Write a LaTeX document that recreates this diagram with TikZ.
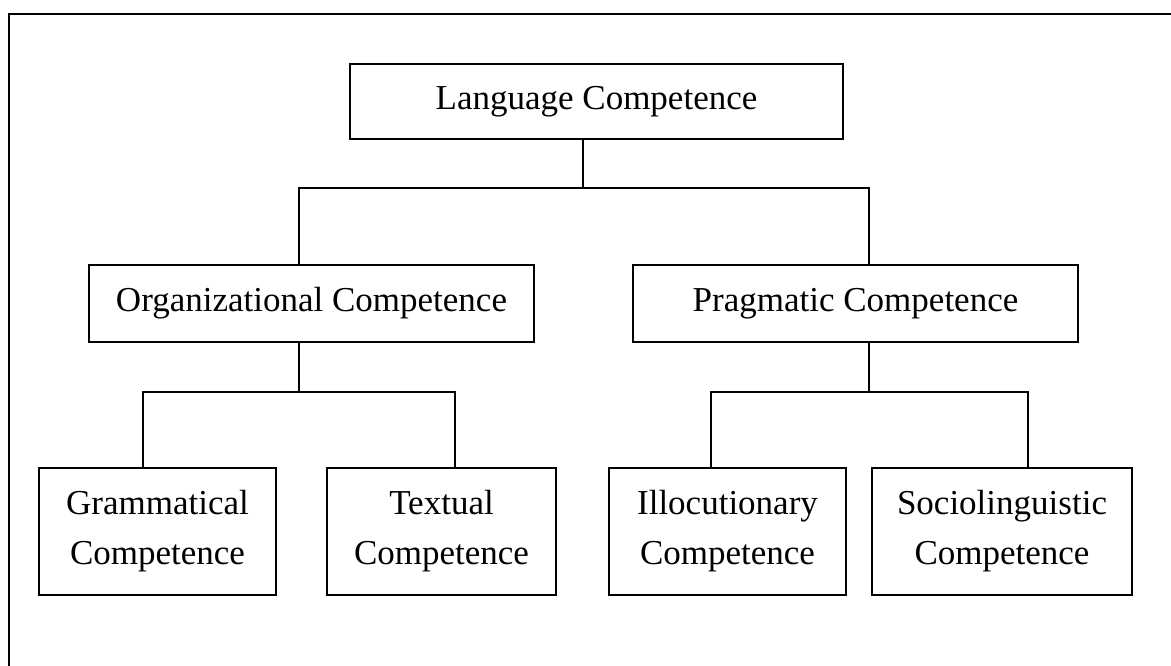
\documentclass[tikz,border=0pt]{standalone}
\usepackage{fontspec}
\setmainfont{Liberation Serif}
\begin{document}
\begin{tikzpicture}[x=1pt,y=-1pt,
  box/.style={draw, line width=2.7pt, rectangle, inner sep=0pt, align=center,
    font=\fontsize{35}{50}\selectfont},
  link/.style={line width=2.5pt}]
  \useasboundingbox (0,0) rectangle (1171,666);
  \fill[white] (0,0) rectangle (1171,666);
  \clip (0,0) rectangle (1171,666);
  % outer frame (runs past the right and bottom edges)
  \draw[line width=2.8pt] (9,700) -- (9,14) -- (1200,14);

  % boxes
  \node[box, minimum width=493pt, minimum height=75pt] (lang) at (596.5,101.5) {Language Competence};
  \node[box, minimum width=445pt, minimum height=77pt] (org)  at (311.5,303.5) {Organizational Competence};
  \node[box, minimum width=445pt, minimum height=77pt] (prag) at (855.5,303.5) {Pragmatic Competence};
  \node[box, minimum width=237pt, minimum height=127pt] (gram) at (157.5,531.5) {Grammatical\\Competence};
  \node[box, minimum width=229pt, minimum height=127pt] (text) at (441.5,531.5) {Textual\\Competence};
  \node[box, minimum width=237pt, minimum height=127pt] (illo) at (727.5,531.5) {Illocutionary\\Competence};
  \node[box, minimum width=260pt, minimum height=127pt] (soci) at (1002,531.5) {Sociolinguistic\\Competence};

  % junction points of the tree
  \coordinate (lj) at (583,188);
  \coordinate (lo) at (299,188);
  \coordinate (lp) at (869,188);
  \coordinate (oj) at (299,392);
  \coordinate (og) at (143,392);
  \coordinate (ot) at (455,392);
  \coordinate (pj) at (869,392);
  \coordinate (pi) at (711,392);
  \coordinate (ps) at (1028,392);

  % connectors
  \draw[link] (lj |- lang.south) -- (lj);
  \draw[link] (lo |- org.north) -- (lo) -- (lp) -- (lp |- prag.north);
  \draw[link] (oj |- org.south) -- (oj);
  \draw[link] (og |- gram.north) -- (og) -- (ot) -- (ot |- text.north);
  \draw[link] (pj |- prag.south) -- (pj);
  \draw[link] (pi |- illo.north) -- (pi) -- (ps) -- (ps |- soci.north);
\end{tikzpicture}
\end{document}
